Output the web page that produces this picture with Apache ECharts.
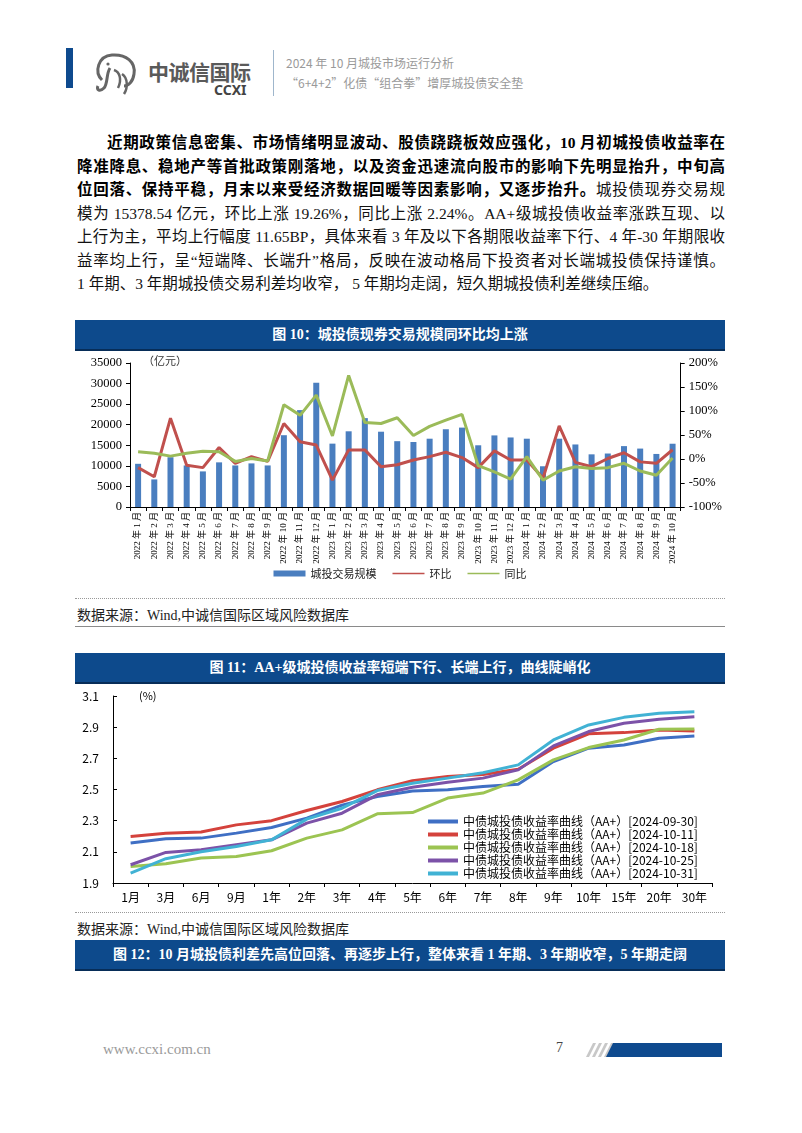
<!DOCTYPE html>
<html>
<head>
<meta charset="utf-8">
<script src="https://cdn.jsdelivr.net/npm/echarts@6/dist/echarts.min.js"></script>
<style>
  html, body { margin: 0; padding: 0; background: #fff; }
  #page { position: relative; width: 802px; height: 1133px; overflow: hidden; background: #fff;
    font-family: "Liberation Serif", "Noto Sans CJK SC", serif; color: #111; }
  .abs { position: absolute; }
  .para { left: 77px; top: 131px; width: 648px; font-size: 15.5px; line-height: 23.5px; }
  .para div { text-align: justify; text-align-last: justify; white-space: nowrap; }
  .para div.last { text-align-last: left; }
  .para b { font-weight: bold; color: #000; }
  .band { left: 75px; width: 650px; height: 29px; background: #0d4a8c; border-bottom: 2px solid #072d58;
    color: #fff; font-weight: bold; font-size: 14px; line-height: 29px; text-align: center; }
  .dots { left: 75px; width: 650px; border-top: 1px dotted #999; }
  .src { left: 77px; font-size: 14px; color: #222; }
  .solid { left: 75px; width: 650px; border-top: 1.5px solid #8a8a8a; }
  .chart { left: 75px; width: 650px; }
</style>
</head>
<body>
<div id="page">
  <!-- header -->
  <div class="abs" style="left:66px;top:48px;width:7px;height:40px;background:#0e4a8e;"></div>
  <svg class="abs" style="left:92px;top:50px;" width="52" height="48" viewBox="0 0 52 48">
    <path d="M10 30 C2 22 6 6 20 5 C34 4 44 12 42 24 C41 32 36 36 32 36" fill="none" stroke="#666" stroke-width="3"/>
    <path d="M18 18 C14 24 16 34 12 38 C8 42 4 40 6 36" fill="none" stroke="#666" stroke-width="3"/>
    <path d="M22 20 C28 22 30 30 26 38 M30 24 C36 28 36 38 32 44" fill="none" stroke="#666" stroke-width="2.5"/>
    <circle cx="16" cy="14" r="1.6" fill="#666"/>
  </svg>
  <div class="abs" style="left:148px;top:58px;font-family:'Noto Sans CJK SC';font-size:21px;font-weight:bold;color:#5a5a5a;letter-spacing:-0.5px;line-height:26px;">中诚信国际</div>
  <div class="abs" style="left:214px;top:82px;font-family:'Noto Sans','DejaVu Sans';font-size:14px;font-weight:bold;color:#444;line-height:16px;">CCXI</div>
  <div class="abs" style="left:273px;top:50px;width:1px;height:46px;background:#9fb6cc;"></div>
  <div class="abs" style="left:286px;top:55px;font-family:'Noto Sans CJK SC';font-size:12px;color:#9a9a9a;line-height:16px;">2024 年 10 月城投市场运行分析</div>
  <div class="abs" style="left:286px;top:75px;font-family:'Noto Sans CJK SC';font-size:12px;color:#9a9a9a;line-height:16px;">“6+4+2”化债“组合拳”增厚城投债安全垫</div>

  <!-- paragraph -->
  <div class="abs para">
    <div style="text-indent:30px;"><b>近期政策信息密集、市场情绪明显波动、股债跷跷板效应强化，10 月初城投债收益率在</b></div>
    <div><b>降准降息、稳地产等首批政策刚落地，以及资金迅速流向股市的影响下先明显抬升，中旬高</b></div>
    <div><b>位回落、保持平稳，月末以来受经济数据回暖等因素影响，又逐步抬升。</b>城投债现券交易规</div>
    <div>模为 15378.54 亿元，环比上涨 19.26%，同比上涨 2.24%。AA+级城投债收益率涨跌互现、以</div>
    <div>上行为主，平均上行幅度 11.65BP，具体来看 3 年及以下各期限收益率下行、4 年-30 年期限收</div>
    <div>益率均上行，呈“短端降、长端升”格局，反映在波动格局下投资者对长端城投债保持谨慎。</div>
    <div class="last">1 年期、3 年期城投债交易利差均收窄， 5 年期均走阔，短久期城投债利差继续压缩。</div>
  </div>

  <!-- figure 10 -->
  <div class="abs band" style="top:320px;">图 10：城投债现券交易规模同环比均上涨</div>
  <div id="chart1" class="abs chart" style="top:351px;height:245px;"></div>
  <div class="abs dots" style="top:598px;"></div>
  <div class="abs src" style="top:604px;">数据来源：Wind,中诚信国际区域风险数据库</div>
  <div class="abs solid" style="top:626px;"></div>

  <!-- figure 11 -->
  <div class="abs band" style="top:653px;">图 11：AA+级城投债收益率短端下行、长端上行，曲线陡峭化</div>
  <div id="chart2" class="abs chart" style="top:684px;height:222px;"></div>
  <div class="abs dots" style="top:912px;"></div>
  <div class="abs src" style="top:918px;">数据来源：Wind,中诚信国际区域风险数据库</div>

  <!-- figure 12 -->
  <div class="abs band" style="top:940px;">图 12：10 月城投债利差先高位回落、再逐步上行，整体来看 1 年期、3 年期收窄，5 年期走阔</div>

  <!-- footer -->
  <div class="abs" style="left:103px;top:1041px;font-size:15px;color:#9a9a9a;">www.ccxi.com.cn</div>
  <div class="abs" style="left:556px;top:1040px;font-size:14px;color:#444;">7</div>
  <svg class="abs" style="left:580px;top:1042px;" width="145" height="16">
    <polygon points="6,15 9,15 16,1 13,1" fill="#c8c8c8"/>
    <polygon points="12,15 15,15 22,1 19,1" fill="#c8c8c8"/>
    <polygon points="18,15 21,15 28,1 25,1" fill="#c8c8c8"/>
    <polygon points="24,15 27,15 34,1 31,1" fill="#c8c8c8"/>
    <polygon points="26,15 142,15 142,1 33,1" fill="#0e4a8e"/>
  </svg>
</div>

<script>
// 图10 数据
const months = [
  '2022 年 1 月', '2022 年 2 月', '2022 年 3 月', '2022 年 4 月', '2022 年 5 月', '2022 年 6 月',
  '2022 年 7 月', '2022 年 8 月', '2022 年 9 月', '2022 年 10 月', '2022 年 11 月', '2022 年 12 月',
  '2023 年 1 月', '2023 年 2 月', '2023 年 3 月', '2023 年 4 月', '2023 年 5 月', '2023 年 6 月',
  '2023 年 7 月', '2023 年 8 月', '2023 年 9 月', '2023 年 10 月', '2023 年 11 月', '2023 年 12 月',
  '2024 年 1 月', '2024 年 2 月', '2024 年 3 月', '2024 年 4 月', '2024 年 5 月', '2024 年 6 月',
  '2024 年 7 月', '2024 年 8 月', '2024 年 9 月', '2024 年 10 月'
]
const tradeVolume = [
  10500, 6700, 12100, 10100, 8650, 10850, 10100, 10600, 10100, 17450, 23550, 30200,
  15400, 18400, 21600, 18300, 16000, 15800, 16600, 18900, 19300, 15000, 17400, 16900,
  16600, 9900, 16600, 15200, 12800, 13000, 14800, 14200, 12895, 15378.54
]
const momPct = [
  -18, -37, 85, -13, -18, 24, -9, 5, -5, 74, 36, 29,
  -44, 19, 19, -16, -12, -2, 5, 14, 3, -18, 17, -2,
  -2, -40, 69, -7, -16, 1, 13, -6, -9, 19.26
]
const yoyPct = [
  15, 12, 6, 12, 16, 15, -5, 1, -4, 113, 91, 133,
  48, 174, 76, 74, 86, 49, 68, 81, 93, -14, -27, -42,
  5, -44, -25, -16, -20, -18, -9, -25, -34, 2.24
]

// 图11 数据
const tenors = ['1月', '3月', '6月', '9月', '1年', '2年', '3年', '4年', '5年', '6年', '7年', '8年', '9年', '10年', '15年', '20年', '30年']
const curve0930 = [2.156, 2.184, 2.188, 2.220, 2.256, 2.316, 2.400, 2.455, 2.490, 2.498, 2.519, 2.534, 2.679, 2.765, 2.786, 2.829, 2.844]
const curve1011 = [2.199, 2.220, 2.227, 2.273, 2.300, 2.365, 2.423, 2.498, 2.557, 2.583, 2.596, 2.630, 2.765, 2.857, 2.865, 2.882, 2.876]
const curve1018 = [2.006, 2.024, 2.060, 2.070, 2.107, 2.188, 2.241, 2.344, 2.352, 2.445, 2.477, 2.562, 2.690, 2.769, 2.818, 2.887, 2.888]
const curve1025 = [2.017, 2.096, 2.113, 2.145, 2.177, 2.284, 2.348, 2.466, 2.515, 2.547, 2.573, 2.626, 2.780, 2.872, 2.925, 2.951, 2.967]
const curve1031 = [1.964, 2.056, 2.100, 2.134, 2.177, 2.310, 2.380, 2.493, 2.540, 2.573, 2.608, 2.658, 2.818, 2.914, 2.963, 2.989, 2.999]
const curveNames = [
  '中债城投债收益率曲线（AA+）[2024-09-30]',
  '中债城投债收益率曲线（AA+）[2024-10-11]',
  '中债城投债收益率曲线（AA+）[2024-10-18]',
  '中债城投债收益率曲线（AA+）[2024-10-25]',
  '中债城投债收益率曲线（AA+）[2024-10-31]'
]

const serif = '"Liberation Serif", "Noto Sans CJK SC", serif'
const sans = '"Noto Sans CJK SC", "Noto Sans", sans-serif'
// 细线图例（上下留空的路径，缩放后只占中间一条）
const thinLine = 'path://M0,0h0.01v0.01h-0.01z M0,2.3h34v1.6h-34z M0,6h0.01v0.01h-0.01z'

const chart1 = echarts.init(document.getElementById('chart1'))
chart1.setOption({
  animation: false,
  grid: { left: 55, right: 42, top: 12, height: 144 },
  graphic: [{ type: 'text', left: 68, top: 4, style: { text: '（亿元）', font: '11px ' + sans, fill: '#333' } }],
  legend: {
    top: 212, left: 'center', itemGap: 16, itemWidth: 32, itemHeight: 6,
    textStyle: { fontFamily: sans, fontSize: 11, color: '#222' },
    data: [{ name: '城投交易规模', icon: 'rect' }, { name: '环比', icon: thinLine }, { name: '同比', icon: thinLine }]
  },
  xAxis: {
    type: 'category', data: months,
    axisLine: { lineStyle: { color: '#000', width: 1 } },
    axisTick: { show: true, length: 4, lineStyle: { color: '#000' } },
    axisLabel: { interval: 0, rotate: 90, margin: 5, fontFamily: serif, fontSize: 9, color: '#000' }
  },
  yAxis: [
    {
      type: 'value', min: 0, max: 35000, interval: 5000,
      axisLine: { show: true, lineStyle: { color: '#000' } },
      axisTick: { show: true, length: 4, lineStyle: { color: '#000' } },
      splitLine: { show: false },
      axisLabel: { fontFamily: serif, fontSize: 12.5, color: '#000', margin: 8, formatter: v => String(v) }
    },
    {
      type: 'value', min: -100, max: 200, interval: 50,
      axisLine: { show: true, lineStyle: { color: '#000' } },
      axisTick: { show: true, length: 4, lineStyle: { color: '#000' } },
      splitLine: { show: false },
      axisLabel: { fontFamily: serif, fontSize: 12.5, color: '#000', margin: 8, formatter: '{value}%' }
    }
  ],
  series: [
    { name: '城投交易规模', type: 'bar', data: tradeVolume, barWidth: 6, itemStyle: { color: '#4a7ebf' } },
    { name: '环比', type: 'line', yAxisIndex: 1, data: momPct, symbol: 'none', z: 3,
      itemStyle: { color: '#c0504d' }, lineStyle: { width: 3, color: '#c0504d' } },
    { name: '同比', type: 'line', yAxisIndex: 1, data: yoyPct, symbol: 'none', z: 4,
      itemStyle: { color: '#9bbb59' }, lineStyle: { width: 3, color: '#9bbb59' } }
  ]
})

const curveColors = ['#3f6fc4', '#d4423c', '#9cc452', '#7c52a8', '#41b2d4']
const curves = [curve0930, curve1011, curve1018, curve1025, curve1031]

const chart2 = echarts.init(document.getElementById('chart2'))
chart2.setOption({
  animation: false,
  grid: { left: 38, right: 13, top: 12, height: 187 },
  graphic: [{ type: 'text', left: 64, top: 6, style: { text: '(%)', font: '11px ' + sans, fill: '#000' } }],
  legend: {
    orient: 'vertical', left: 348, top: 126, itemGap: 0, itemWidth: 30, itemHeight: 4, icon: 'rect',
    textStyle: { fontFamily: sans, fontSize: 12, color: '#000', lineHeight: 13 },
    data: curveNames
  },
  xAxis: {
    type: 'category', data: tenors,
    axisLine: { lineStyle: { color: '#000' } },
    axisTick: { show: true, length: 4, lineStyle: { color: '#000' } },
    axisLabel: { fontFamily: sans, fontSize: 12, color: '#000', margin: 8 }
  },
  yAxis: {
    type: 'value', min: 1.9, max: 3.1, interval: 0.2,
    axisLine: { show: true, lineStyle: { color: '#000' } },
    axisTick: { show: true, inside: true, length: 4, lineStyle: { color: '#000' } },
    splitLine: { show: false },
    axisLabel: { fontFamily: sans, fontSize: 12, color: '#000', margin: 14, formatter: v => v.toFixed(1) }
  },
  series: curves.map((d, i) => ({
    name: curveNames[i], type: 'line', data: d, symbol: 'none',
    itemStyle: { color: curveColors[i] }, lineStyle: { width: 3, color: curveColors[i] }
  }))
})
</script>
</body>
</html>
